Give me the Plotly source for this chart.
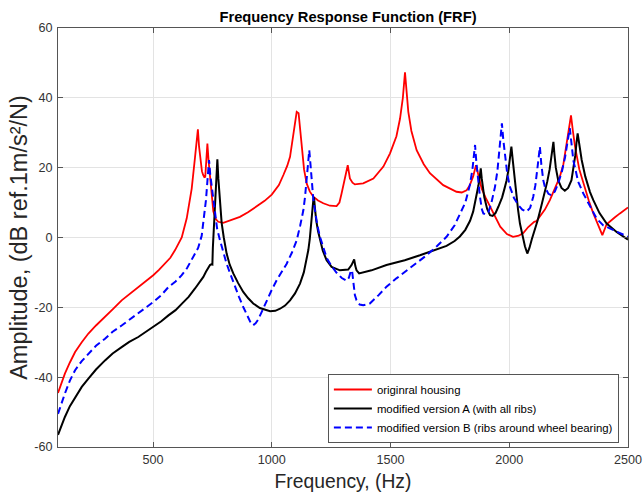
import plotly.graph_objects as go

# ---------------- data ----------------
freq_red = [100,115,129,150,172,200,228,260,298,330,368,400,438,470,501,525,551,573,593,608,621,642,663,677,684,689,694,700,706,711,716,720,724,729,734,740,747,754,765,775,796,830,866,900,936,970,1000,1030,1049,1065,1077,1090,1098,1105,1113,1120,1126,1136,1147,1160,1175,1195,1217,1245,1273,1285,1294,1304,1312,1320,1329,1340,1350,1385,1428,1470,1498,1525,1540,1552,1561,1568,1575,1588,1610,1640,1666,1722,1778,1800,1820,1834,1848,1860,1870,1884,1900,1919,1940,1962,1990,2016,2040,2059,2080,2094,2105,2115,2130,2150,2171,2195,2213,2228,2241,2250,2260,2268,2277,2295,2312,2335,2354,2375,2392,2410,2424,2445,2466,2500]
amp_red = [-44.5,-41.5,-39,-35.8,-32.8,-30,-27.5,-25.2,-22.8,-20.6,-18,-16.3,-14.2,-12.6,-10.8,-9.3,-7.5,-5.8,-3.6,-1.8,0,5.5,14,23,28,31,26,22,19,17.9,17.3,17.4,21,26.9,22,17,11,7.5,5.2,4.5,4.2,5,5.9,7.2,8.8,10.5,12.3,15,17.9,20.5,23.1,28.5,32.7,36,35.6,30,25,19.5,15.5,13.2,11.7,10.6,9.8,9.1,9,10,12.6,15.5,18.4,20.7,16.9,15.7,15.2,15.5,16.9,20.3,24.1,29,34,40,47.3,41,36,30.5,25,21,18.4,15,13.1,12.9,13.5,15,17.5,20.7,17.5,14,11.5,8.8,5.8,3.1,1,0.2,0.5,1.3,3,4,4.5,4.7,6,8,10.7,14.5,17.4,21,27,31,35,30.5,26,19.5,15.5,10.5,6.9,3.5,0.7,3.8,4.5,5.8,6.9,8.6]

freq_a = [100,115,129,150,172,200,228,260,298,330,368,400,438,470,501,535,565,595,621,650,677,695,712,723,733,740,747,750,752,755,758,761,765,768,771,775,779,784,789,798,810,823,838,858,880,901,922,950,975,993,1015,1035,1056,1077,1098,1119,1135,1148,1154,1160,1165,1168,1172,1176,1178,1181,1184,1187,1195,1203,1215,1231,1252,1287,1322,1336,1342,1347,1352,1357,1368,1420,1483,1560,1624,1680,1736,1770,1792,1815,1835,1848,1858,1865,1870,1875,1880,1884,1889,1895,1907,1919,1930,1942,1954,1970,1980,1989,1997,2003,2009,2015,2020,2024,2030,2037,2045,2055,2066,2076,2085,2095,2108,2120,2135,2150,2160,2170,2177,2182,2186,2190,2196,2206,2220,2234,2248,2262,2270,2278,2283,2288,2292,2298,2305,2320,2340,2354,2380,2410,2452,2500]
amp_a = [-56.5,-53.8,-51.4,-48.3,-45.7,-42.8,-40.4,-37.8,-35.2,-33.2,-31.4,-29.9,-28.5,-27,-25.6,-24,-22.3,-20.8,-19,-17,-14.6,-12.9,-11.3,-9.8,-8.6,-7.9,-7.6,-7.7,-3,1,6,12,17,20.5,22.4,17,12.6,8,4.2,0,-4.6,-7.8,-10.3,-13,-15.6,-17.4,-18.9,-20.2,-20.8,-21.1,-21,-20.4,-19.5,-18,-16,-13.2,-10,-6,-3.6,-0.5,2.5,5,8.5,11.3,11.5,9,6.5,5,1.8,-0.8,-3.8,-6.5,-8.4,-9.4,-9.2,-7.9,-7,-6.3,-8.2,-9.4,-10.3,-9.4,-7.9,-6.5,-5.1,-3.8,-2.4,-1,0.3,2.2,4.8,7.4,10.5,13,14.8,17,19.8,17,14,11.5,8.2,6.4,6.2,7,8.8,11.5,14,16.4,19.5,22.5,26,22,18.5,16,12,8,4,0.5,-2.5,-4.6,-3,-0.5,2.1,5,9,13,16,19.5,23,26,27.4,24,20,16.4,14.2,13.4,14.2,16.4,19.5,23.5,27,29.8,28,25,22.2,17.5,13,10.7,7,4,1.6,-0.6]

freq_b = [100,115,129,150,172,200,228,260,298,330,368,400,438,470,501,535,565,595,621,643,663,678,690,705,714,723,730,736,741,747,754,761,770,782,796,810,826,845,862,880,901,912,922,932,943,960,978,1000,1021,1042,1063,1085,1105,1120,1133,1140,1147,1153,1158,1163,1168,1175,1182,1192,1203,1217,1231,1252,1273,1295,1315,1325,1333,1338,1343,1350,1357,1370,1385,1413,1450,1483,1525,1568,1610,1652,1695,1736,1770,1792,1815,1834,1845,1852,1856,1861,1868,1876,1885,1891,1900,1912,1925,1940,1950,1958,1964,1969,1975,1982,1992,2003,2020,2038,2055,2073,2088,2101,2110,2118,2124,2129,2135,2143,2150,2165,2178,2192,2206,2222,2235,2242,2248,2255,2262,2270,2276,2290,2312,2340,2368,2395,2424,2455,2480,2500]
amp_b = [-50.5,-47.3,-44.7,-41,-38,-35.4,-33.3,-31,-29,-27,-25.2,-23.6,-21.8,-20.2,-18.5,-16.5,-14.2,-12.6,-10.8,-8.8,-6.5,-4.8,-3,0.5,5,10.7,17,22.2,18,14.5,10.5,6.9,2.5,-0.8,-4.2,-7.5,-10.5,-14.2,-17,-19.9,-23.2,-24.5,-25.1,-24.6,-23.5,-20.8,-18,-15,-12.2,-9.8,-7.5,-4.3,-0.8,3.5,7.8,11.5,17.4,22,25,21,16.4,11,7.8,3.5,0.2,-3,-5.8,-8.2,-10.1,-11.6,-12.4,-11.5,-9.6,-9.4,-13,-16.5,-18,-19.2,-19.4,-18.9,-16.5,-14.1,-11.7,-9.4,-7.2,-5.1,-2.5,0.2,3.5,6.5,10,15,19.5,24,26.5,22,17,12,8,6.9,6.6,7.2,10,14.5,19,25,30,32.7,28,23.1,18,14.5,11.3,9.3,8,7.4,8.5,11.7,15,19.5,23.5,26,21,16.5,14.5,12.5,12.1,13.2,15.5,19,23,25.5,28.5,31.3,26,22,20.3,16,12.6,8.8,5.4,3.5,2.6,1.6,0.7,0.2]

series_names = ["originral housing",
                "modified version A (with all ribs)",
                "modified version B (ribs around wheel bearing)"]
x_ticks = [500, 1000, 1500, 2000, 2500]
y_ticks = [-60, -40, -20, 0, 20, 40, 60]

# ---------------- figure ----------------
FONT = "Liberation Sans, Arial, sans-serif"
fig = go.Figure()
fig.add_trace(go.Scatter(x=freq_red, y=amp_red, mode="lines", name=series_names[0],
                         line=dict(color="#ff0000", width=1.8)))
fig.add_trace(go.Scatter(x=freq_a, y=amp_a, mode="lines", name=series_names[1],
                         line=dict(color="#000000", width=2)))
fig.add_trace(go.Scatter(x=freq_b, y=amp_b, mode="lines", name=series_names[2],
                         line=dict(color="#0000ff", width=2, dash="7px,4px")))

axis_common = dict(showline=True, linecolor="#555555", linewidth=1, mirror="ticks",
                   ticks="inside", ticklen=5, tickcolor="#555555",
                   showgrid=True, gridcolor="#e3e3e3", gridwidth=1, zeroline=False,
                   automargin=False,
                   tickfont=dict(family=FONT, size=12.6, color="#333333"))

fig.update_xaxes(range=[100, 2500], tickvals=x_ticks, ticktext=[str(v) for v in x_ticks],
                 ticklabelstandoff=1,
                 title=dict(text="Frequency, (Hz)", font=dict(family=FONT, size=19.3, color="#262626"),
                            standoff=8),
                 **axis_common)
fig.update_yaxes(range=[-60, 60], tickvals=y_ticks, ticktext=[str(v) for v in y_ticks],
                 ticklabelstandoff=2,
                 title=dict(text="Amplitude, (dB ref.1m/s²/N)",
                            font=dict(family=FONT, size=23.5, color="#262626"), standoff=0),
                 **axis_common)

fig.update_layout(
    width=643, height=492,
    margin=dict(l=58, r=15, t=28, b=45),
    paper_bgcolor="white", plot_bgcolor="white",
    title=dict(text="<b>Frequency Response Function (FRF)</b>",
               font=dict(family=FONT, size=14.7, color="#000000"),
               x=0.5088, xref="paper", xanchor="center",
               y=1 - 17 / 492, yref="container", yanchor="middle"),
    legend=dict(x=0.984, y=0.0095, xanchor="right", yanchor="bottom",
                bgcolor="white", bordercolor="#555555", borderwidth=1,
                font=dict(family=FONT, size=11.4, color="#000000"),
                tracegroupgap=0, itemwidth=38),
    showlegend=True,
)

# remove the page's default body margin so the 643x492 figure fills the window exactly
fig.write_html("out.html",
               config={"displayModeBar": False},
               post_script="document.body.style.margin='0';document.body.style.overflow='hidden';")
